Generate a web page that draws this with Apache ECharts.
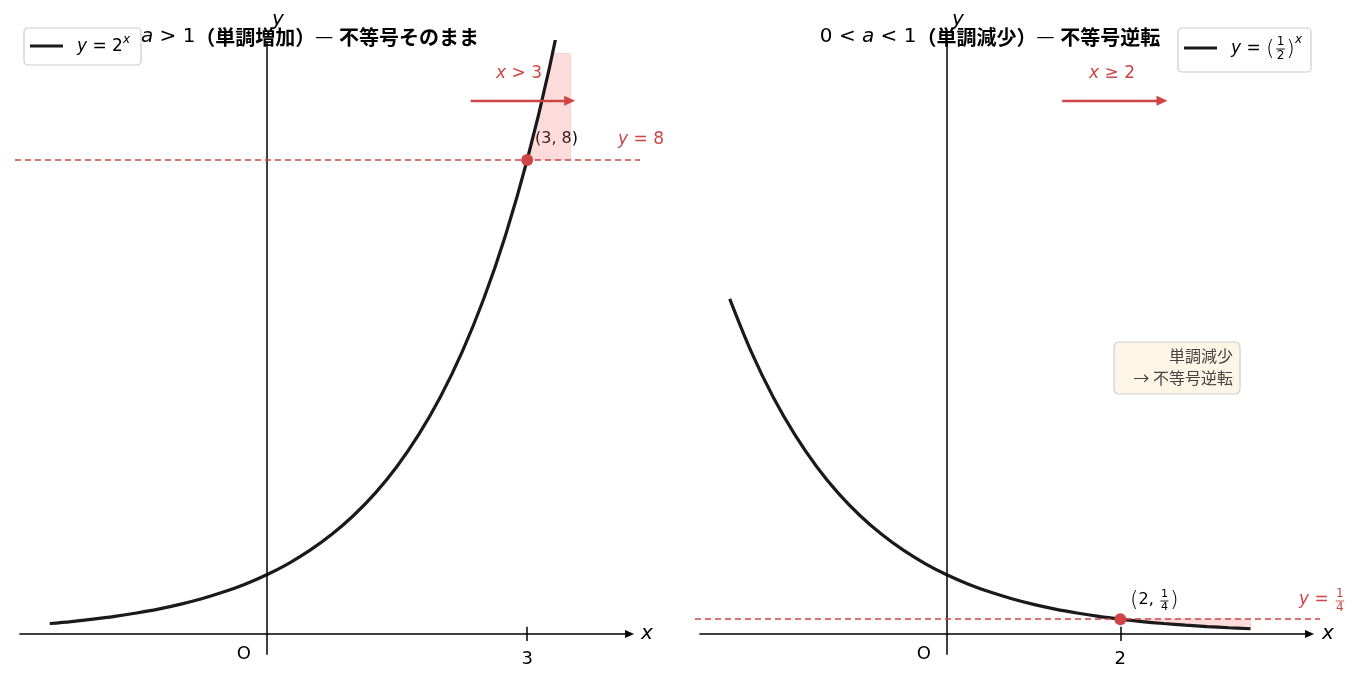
<!DOCTYPE html>
<html>
<head>
<meta charset="utf-8">
<script src="https://cdn.jsdelivr.net/npm/echarts@6/dist/echarts.min.js"></script>
<style>
  html, body { margin: 0; padding: 0; background: #fff; }
  #chart { width: 1358px; height: 685px; }
</style>
</head>
<body>
<div id="chart"></div>
<script>
// curve samples
var curveX = [-2.5, -2.25, -2, -1.75, -1.5, -1.25, -1, -0.75, -0.5, -0.25, 0, 0.25, 0.5,
  0.75, 1, 1.25, 1.5, 1.75, 2, 2.25, 2.5, 2.75, 3, 3.25, 3.5];
var growY = [0.177, 0.210, 0.25, 0.297, 0.354, 0.420, 0.5, 0.595, 0.707, 0.841, 1, 1.189, 1.414,
  1.682, 2, 2.378, 2.828, 3.364, 4, 4.757, 5.657, 6.727, 8, 9.514, 11.31];
var decayY = [5.657, 4.757, 4, 3.364, 2.828, 2.378, 2, 1.682, 1.414, 1.189, 1, 0.841, 0.707,
  0.595, 0.5, 0.420, 0.354, 0.297, 0.25, 0.210, 0.177, 0.149, 0.125, 0.105, 0.088];

// key points and thresholds
var growPoint = [3, 8];
var decayPoint = [2, 0.25];
var growLevel = 8;
var decayLevel = 0.25;
var growTicks = [3];
var decayTicks = [2];

// shaded solution regions (polygon vertices)
var growFill = [[3, 8], [3.1, 8.57], [3.2, 9.19], [3.293, 9.8], [3.5, 9.8], [3.5, 8]];
var decayFill = [[2, 0.25], [2.25, 0.21], [2.5, 0.177], [2.75, 0.149], [3, 0.125],
  [3.25, 0.105], [3.5, 0.088], [3.5, 0.25]];

var RED = "#cf4444";
var INK = "#1a1a1a";
var MATH = "DejaVu Sans";
var JP = '"Noto Sans CJK JP"';

var chart = echarts.init(document.getElementById("chart"));

function pairs(xs, ys) {
  return xs.map(function (x, i) { return [x, ys[i]]; });
}

function axisLines(tickXs) {
  var items = [
    [{ coord: [-2.85, 0], symbol: "none" },
     { coord: [4.18, 0], symbol: "triangle", symbolSize: [8, 9] }],
    [{ coord: [0, -0.35], symbol: "none" }, { coord: [0, 10], symbol: "none" }]
  ];
  tickXs.forEach(function (t) {
    items.push([{ coord: [t, -0.12], symbol: "none" }, { coord: [t, 0.12], symbol: "none" }]);
  });
  return {
    silent: true,
    label: { show: false },
    lineStyle: { color: "#000", width: 1.5, type: "solid" },
    data: items
  };
}

function panel(idx, ys, point, level, fill, ticks, arrowFrom, arrowTo) {
  return [
    {
      type: "custom",
      xAxisIndex: idx, yAxisIndex: idx,
      silent: true,
      z: 1,
      data: [0],
      renderItem: function (params, api) {
        return {
          type: "polygon",
          shape: { points: fill.map(function (p) { return api.coord(p); }) },
          style: { fill: "rgba(255,110,110,0.24)", stroke: "rgba(255,110,110,0.2)", lineWidth: 1 }
        };
      }
    },
    {
      type: "line",
      xAxisIndex: idx, yAxisIndex: idx,
      data: [],
      silent: true,
      z: 2,
      markLine: axisLines(ticks)
    },
    {
      type: "line",
      xAxisIndex: idx, yAxisIndex: idx,
      data: [],
      silent: true,
      z: 3,
      markLine: {
        silent: true,
        label: { show: false },
        symbol: "none",
        data: [
          { yAxis: level, lineStyle: { color: RED, width: 1.7, type: [6, 4] } },
          [{ coord: arrowFrom, symbol: "none", lineStyle: { color: RED, width: 2.4, type: "solid" } },
           { coord: arrowTo, symbol: "triangle", symbolSize: [10, 11] }]
        ]
      }
    },
    {
      type: "line",
      xAxisIndex: idx, yAxisIndex: idx,
      data: pairs(curveX, ys),
      smooth: 0.35,
      showSymbol: false,
      silent: true,
      z: 4,
      lineStyle: { color: INK, width: 3.2 }
    },
    {
      type: "scatter",
      xAxisIndex: idx, yAxisIndex: idx,
      data: [point],
      symbolSize: 12,
      silent: true,
      z: 5,
      itemStyle: { color: RED, opacity: 1 }
    }
  ];
}

var grids = [
  { left: 15, width: 625, top: 41.5, height: 622.1 },
  { left: 695, width: 625, top: 41.5, height: 622.1 }
];

chart.setOption({
  animation: false,
  grid: grids,
  xAxis: [0, 1].map(function (i) {
    return { gridIndex: i, type: "value", min: -2.9, max: 4.3, show: false };
  }),
  yAxis: [0, 1].map(function (i) {
    return { gridIndex: i, type: "value", min: -0.5, max: 10, show: false };
  }),
  series: panel(0, growY, growPoint, growLevel, growFill, growTicks, [2.35, 9.0], [3.49, 9.0])
    .concat(panel(1, decayY, decayPoint, decayLevel, decayFill, decayTicks, [1.33, 9.0], [2.48, 9.0]))
});

// ---- text pieces (math-like runs measured with canvas) ----
var ctx = document.createElement("canvas").getContext("2d");
function tw(t, font) { ctx.font = font; return ctx.measureText(t).width; }

function run(x, y, pieces, align, fill) {
  var widths = pieces.map(function (p) {
    if (p.num) return Math.max(tw(p.num, p.font), tw(p.den, p.font)) + 4;
    return tw(p.t, p.font);
  });
  var total = widths.reduce(function (a, b) { return a + b; }, 0);
  var cx = align === "center" ? x - total / 2 : align === "right" ? x - total : x;
  var els = [];
  pieces.forEach(function (p, i) {
    var w = widths[i];
    var col = p.fill || fill;
    if (p.num) {
      var mid = cx + w / 2;
      var by = y + (p.dy || 0);
      els.push({ type: "text", silent: true, style: { text: p.num, x: mid, y: by - 1, font: p.font, fill: col, align: "center", verticalAlign: "bottom" } });
      els.push({ type: "line", silent: true, shape: { x1: cx + 1.5, y1: by, x2: cx + w - 1.5, y2: by }, style: { stroke: col, lineWidth: 0.9 } });
      els.push({ type: "text", silent: true, style: { text: p.den, x: mid, y: by + 1, font: p.font, fill: col, align: "center", verticalAlign: "top" } });
    } else {
      els.push({ type: "text", silent: true, style: { text: p.t, x: cx, y: y + (p.dy || 0), font: p.font, fill: col, align: "left", verticalAlign: "middle" } });
    }
    cx += w;
  });
  return els;
}

var f = function (size, style) { return (style || "") + " " + size + "px " + MATH; };
var jb = function (size) { return "bold " + size + "px " + JP; };
var jn = function (size) { return size + "px " + JP; };

var g = [];

// titles
g = g.concat(run(310, 37, [
  { t: "a", font: f(20, "italic") }, { t: " > 1", font: f(20) },
  { t: "（単調増加）", font: jb(20) }, { t: "— ", font: f(18) }, { t: "不等号そのまま", font: jb(20) }
], "center", "#000"));
g = g.concat(run(990, 37, [
  { t: "0 < ", font: f(20) }, { t: "a", font: f(20, "italic") }, { t: " < 1", font: f(20) },
  { t: "（単調減少）", font: jb(20) }, { t: "— ", font: f(18) }, { t: "不等号逆転", font: jb(20) }
], "center", "#000"));

// axis names and tick labels
[[278, 20, "y"], [641, 634, "x"], [958, 20, "y"], [1322, 634, "x"]].forEach(function (a) {
  g.push({ type: "text", silent: true, style: { text: a[2], x: a[0], y: a[1], font: f(20, "italic"), fill: "#000", align: a[2] === "y" ? "center" : "left", verticalAlign: "middle" } });
});
function tickLabels(gi, ticks) {
  ticks.forEach(function (t) {
    var p = chart.convertToPixel({ gridIndex: gi }, [t, 0]);
    g.push({ type: "text", silent: true, style: { text: String(t), x: p[0], y: p[1] + 25, font: f(18), fill: "#000", align: "center", verticalAlign: "middle" } });
  });
  var o = chart.convertToPixel({ gridIndex: gi }, [0, 0]);
  g.push({ type: "text", silent: true, style: { text: "O", x: o[0] - 23, y: o[1] + 20, font: f(18), fill: "#000", align: "center", verticalAlign: "middle" } });
}
tickLabels(0, growTicks);
tickLabels(1, decayTicks);

// left annotations
g = g.concat(run(519, 74, [{ t: "x", font: f(17, "italic") }, { t: " > 3", font: f(17) }], "center", RED));
g = g.concat(run(535, 139, [{ t: "(3, 8)", font: f(16) }], "left", "#000"));
g = g.concat(run(641, 140, [{ t: "y", font: f(17, "italic") }, { t: " = 8", font: f(17) }], "center", RED));

// right annotations
g = g.concat(run(1112, 74, [{ t: "x", font: f(17, "italic") }, { t: " ≥ 2", font: f(17) }], "center", RED));
g = g.concat(run(1130, 600, [
  { t: "(", font: f(22, "100") }, { t: "2, ", font: f(16) },
  { num: "1", den: "4", font: f(11), dy: 1 }, { t: ")", font: f(22, "100") }
], "left", "#000"));
g = g.concat(run(1299, 600, [
  { t: "y", font: f(17, "italic") }, { t: " = ", font: f(17) },
  { num: "1", den: "4", font: f(12), dy: 1 }
], "left", RED));

// note box
g.push({ type: "rect", silent: true, shape: { x: 1114, y: 342, width: 126, height: 52, r: 5 }, style: { fill: "#fdf5e6", stroke: "#cfcfcf", lineWidth: 1.2 } });
g.push({ type: "text", silent: true, style: { text: "単調減少", x: 1233, y: 356, font: jn(16), fill: "#444", align: "right", verticalAlign: "middle" } });
g.push({ type: "text", silent: true, style: { text: "→ 不等号逆転", x: 1233, y: 378, font: jn(16), fill: "#444", align: "right", verticalAlign: "middle" } });

// legends
g.push({ type: "rect", silent: true, shape: { x: 24, y: 28, width: 117, height: 37, r: 4 }, style: { fill: "#fff", stroke: "#cccccc", lineWidth: 1.2 } });
g.push({ type: "line", silent: true, shape: { x1: 30, y1: 46, x2: 63, y2: 46 }, style: { stroke: INK, lineWidth: 3 } });
g = g.concat(run(77, 47, [
  { t: "y", font: f(17, "italic") }, { t: " = 2", font: f(17) }, { t: "x", font: f(12, "italic"), dy: -7 }
], "left", "#000"));

g.push({ type: "rect", silent: true, shape: { x: 1178, y: 28, width: 133, height: 44, r: 4 }, style: { fill: "#fff", stroke: "#cccccc", lineWidth: 1.2 } });
g.push({ type: "line", silent: true, shape: { x1: 1184, y1: 48, x2: 1217, y2: 48 }, style: { stroke: INK, lineWidth: 3 } });
g = g.concat(run(1231, 49, [
  { t: "y", font: f(17, "italic") }, { t: " = ", font: f(17) }, { t: "(", font: f(22, "100") },
  { num: "1", den: "2", font: f(12), dy: 0 }, { t: ")", font: f(22, "100") },
  { t: "x", font: f(12, "italic"), dy: -9 }
], "left", "#000"));

chart.setOption({ graphic: { elements: g } });

window.addEventListener("resize", function () { chart.resize(); });
</script>
</body>
</html>
